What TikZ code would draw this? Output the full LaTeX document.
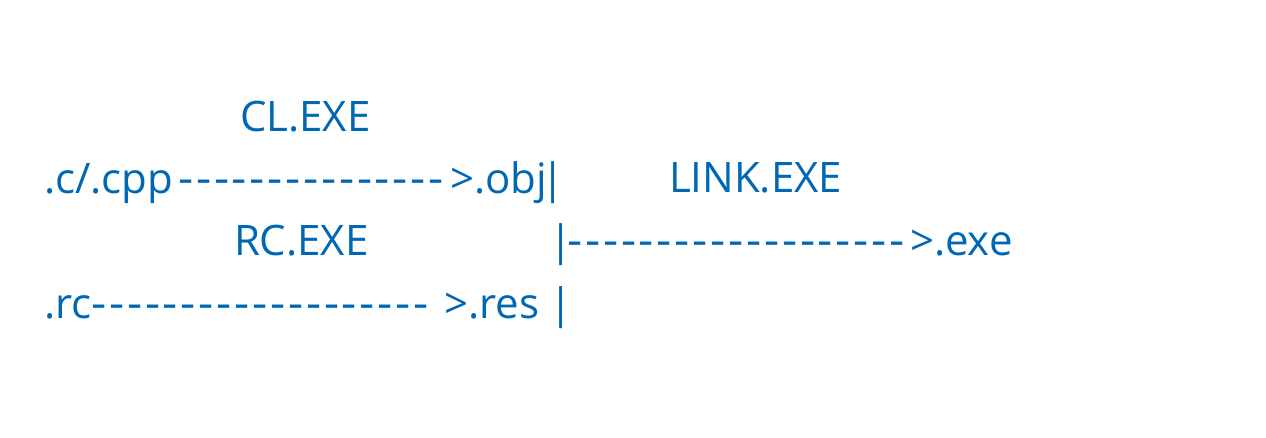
\documentclass[tikz,border=0pt]{standalone}
\usepackage{fontspec}
\setmainfont{Open Sans}
\definecolor{ink}{HTML}{0067B4}
\newcount\dshn
\newcommand\dashrun[2]{\hbox to #2{\dshn=0\relax\loop\hss\scalebox{1.12}[1.05]{-}\hss\advance\dshn by 1\relax\ifnum\dshn<#1\repeat}}
\tikzset{
  txt/.style={anchor=base west, inner sep=0pt, outer sep=0pt, text=ink,
    font=\fontsize{42}{50}\selectfont}
}
\begin{document}
\begin{tikzpicture}[x=1pt,y=-1pt]
\useasboundingbox (0,0) rectangle (1266,438);
% row 0
\node[txt] (cl) at (240,132) {CL.EXE};
% row 1
\node[txt] (csrc) at (44,194) {.c/.cpp};
\node[txt] (d1) at (177,194) {\dashrun{15}{268pt}};
\node[txt] (obj) at (450,194) {>.obj\kern-5pt|};
\node[txt] (link) at (669,193) {LINK.EXE};
% row 2
\node[txt] (rc) at (234,256) {RC.EXE};
\node[txt] (bar2) at (549,256) {|};
\node[txt] (d2) at (566,256) {\dashrun{19}{340pt}};
\node[txt] (exe) at (910,256) {>.exe};
% row 3
\node[txt] (rsrc) at (44,318) {.rc};
\node[txt] (d3) at (90,318) {\dashrun{19}{340pt}};
\node[txt] (res) at (444,318) {>.res |};
\end{tikzpicture}
\end{document}
